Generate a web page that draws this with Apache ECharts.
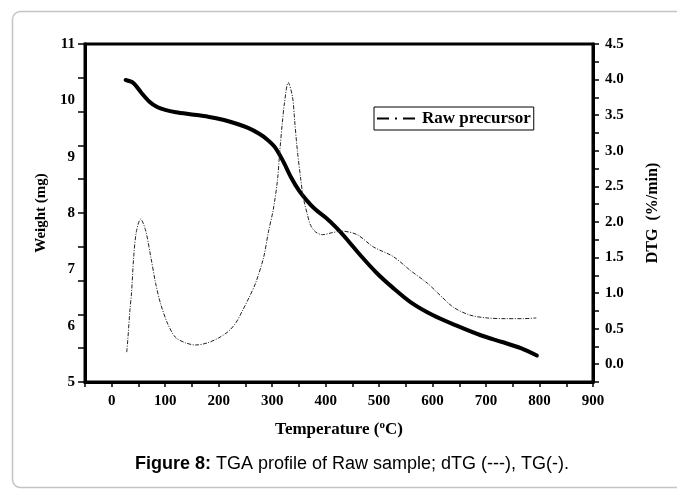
<!DOCTYPE html>
<html>
<head>
<meta charset="utf-8">
<script src="https://cdn.jsdelivr.net/npm/echarts@6/dist/echarts.min.js"></script>
<style>html,body{margin:0;padding:0;background:#fff;}#c{width:677px;height:490px;}</style>
</head>
<body>
<div id="c"></div>
<script>
// Temperature (°C) and weight (mg) for TG curve
var tgTemp = [26,40,55,70,85,100,120,150,180,210,235,255,275,290,305,320,335,350,365,380,400,420,440,465,495,525,560,600,645,690,730,765,795];
var tgWeight = [10.36,10.31,10.14,9.98,9.88,9.83,9.79,9.75,9.71,9.65,9.58,9.51,9.41,9.31,9.17,8.93,8.64,8.40,8.22,8.07,7.92,7.74,7.53,7.25,6.94,6.68,6.41,6.19,6.00,5.83,5.71,5.60,5.47];
// Temperature (°C) and DTG (%/min) for DTG curve
var dtgTemp = [28,30,34,37,41,46,54,63,73,82,91,104,119,138,157,179,200,218,232,245,257,269,284,293,302,310,314,319,323,330,338,342,347,353,358,366,372,381,394,413,430,459,489,527,558,590,614,639,670,702,739,770,794];
var dtgValue = [0.17,0.34,0.76,1.00,1.50,1.86,2.04,1.89,1.51,1.14,0.86,0.58,0.38,0.30,0.27,0.30,0.37,0.46,0.58,0.76,0.94,1.14,1.50,1.86,2.17,2.59,2.97,3.39,3.67,3.96,3.76,3.43,3.01,2.63,2.35,2.10,1.95,1.86,1.82,1.85,1.87,1.82,1.65,1.51,1.32,1.14,0.97,0.80,0.69,0.65,0.64,0.64,0.65];
var xTicks = [0,100,200,300,400,500,600,700,800,900];
var seriesName = 'Raw precursor';
var captionBold = 'Figure 8:';
var captionText = ' TGA profile of Raw sample; dTG (---), TG(-).';

var serif = '"Liberation Serif", "Times New Roman", serif';
var lblStyle = {color:'#000', fontFamily: serif, fontWeight:'bold', fontSize:15};

function pairs(xs, ys){ return xs.map(function(x,i){ return [x, ys[i]]; }); }

var chart = echarts.init(document.getElementById('c'));
chart.setOption({
  animation:false,
  backgroundColor:'#fff',
  grid:{left:85,right:84,top:44,bottom:108,show:true,borderColor:'#000',borderWidth:3,backgroundColor:'transparent'},
  legend:{
    data:[seriesName], left:374, top:107, orient:'horizontal',
    borderColor:'#000', borderWidth:1, padding:[3,3,3,3],
    itemWidth:42, itemHeight:14, itemGap:4,
    icon:'path://M0,6 L12,6 L12,8 L0,8 Z M18,6 L20,6 L20,8 L18,8 Z M26,6 L38,6 L38,8 L26,8 Z M0,0 L0,0 M38,14 L38,14',
    itemStyle:{color:'#000'},
    textStyle:{color:'#000',fontFamily:serif,fontWeight:'bold',fontSize:17}
  },
  xAxis:{
    type:'value', min:-50, max:900, interval:50,
    axisLine:{show:true,onZero:false,lineStyle:{color:'#000',width:3}},
    axisTick:{show:true,inside:false,length:5,lineStyle:{color:'#000',width:1.5}},
    splitLine:{show:false},
    axisLabel:Object.assign({margin:12, formatter:function(v){ return xTicks.indexOf(v)>=0 ? String(v) : ''; }}, lblStyle),
    name:'{a|Temperature (}{s|o}{a|C)}', nameLocation:'middle', nameGap:38,
    nameTextStyle:{rich:{
      a:{color:'#000',fontFamily:serif,fontWeight:'bold',fontSize:17},
      s:{color:'#000',fontFamily:serif,fontWeight:'bold',fontSize:11,verticalAlign:'top',padding:[0,0,9,0]}
    }}
  },
  yAxis:[
    {
      type:'value', min:5, max:11, interval:1, position:'left',
      axisLine:{show:true,onZero:false,lineStyle:{color:'#000',width:3}},
      axisTick:{show:false}, splitLine:{show:false},
      axisLabel:Object.assign({margin:10}, lblStyle),
      name:'Weight (mg)', nameLocation:'middle', nameGap:30,
      nameTextStyle:{color:'#000',fontFamily:serif,fontWeight:'bold',fontSize:15}
    },
    {
      type:'value', min:-0.25, max:4.5, interval:0.25, position:'right',
      axisLine:{show:true,onZero:false,lineStyle:{color:'#000',width:3}},
      axisTick:{show:true,inside:false,length:6,lineStyle:{color:'#000',width:1.5}},
      splitLine:{show:false},
      axisLabel:Object.assign({margin:12, formatter:function(v){
        var d=v*2; if (v<0 || Math.abs(d-Math.round(d))>1e-6) return ''; return v.toFixed(1); }}, lblStyle),
      name:'DTG  (%/min)', nameLocation:'middle', nameGap:52,
      nameTextStyle:{color:'#000',fontFamily:serif,fontWeight:'bold',fontSize:16}
    },
    {
      type:'value', min:0, max:10, interval:1, position:'left',
      axisLine:{show:true,onZero:false,lineStyle:{color:'#000',width:3}},
      axisTick:{show:true,inside:false,length:7,lineStyle:{color:'#000',width:1.5}},
      axisLabel:{show:false}, splitLine:{show:false}
    }
  ],
  series:[
    {
      name:'TG', type:'line', yAxisIndex:0, showSymbol:false, symbol:'none', smooth:0.3,
      data:pairs(tgTemp, tgWeight),
      lineStyle:{color:'#000',width:4,cap:'round',join:'round'}
    },
    {
      name:seriesName, type:'line', yAxisIndex:1, showSymbol:false, symbol:'none', smooth:0.3,
      data:pairs(dtgTemp, dtgValue),
      lineStyle:{color:'#222',width:1,type:[4,1.5,1,1.5]}
    }
  ],
  graphic:[
    {type:'rect', shape:{x:12.5,y:11.5,width:720,height:476,r:8}, style:{fill:'none',stroke:'#c4c4c4',lineWidth:1.5}, silent:true},
    {type:'text', x:352, y:464, style:{
      text:'{b|'+captionBold+'}{n|'+captionText+'}',
      align:'center', verticalAlign:'middle',
      rich:{
        b:{fontFamily:'"Liberation Sans", Arial, sans-serif',fontWeight:'bold',fontSize:18,fill:'#000'},
        n:{fontFamily:'"Liberation Sans", Arial, sans-serif',fontSize:18,fill:'#000'}
      }
    }}
  ]
});
</script>
</body>
</html>
